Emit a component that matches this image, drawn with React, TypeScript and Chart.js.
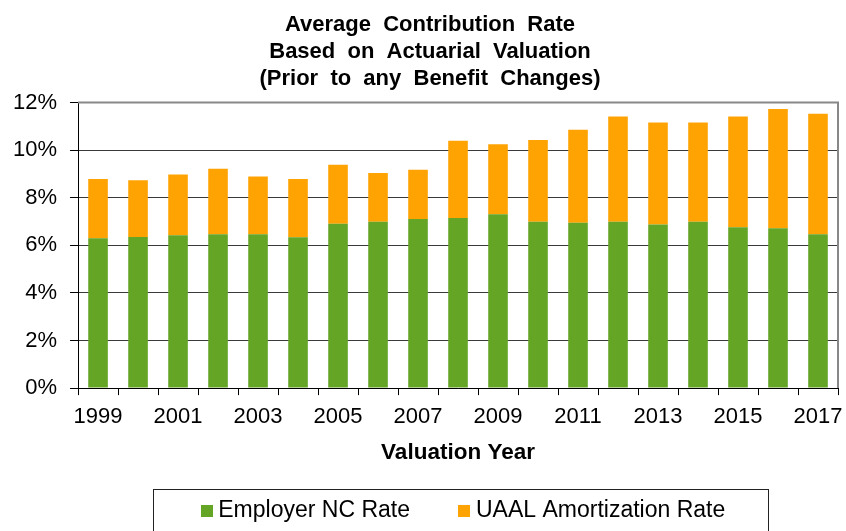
import React, { useEffect, useRef } from "react";
import { Chart, registerables } from "chart.js";

Chart.register(...registerables);

const years = ["1999","2000","2001","2002","2003","2004","2005","2006","2007","2008","2009","2010","2011","2012","2013","2014","2015","2016","2017"];
const employerNcRate = [6.30, 6.35, 6.42, 6.46, 6.46, 6.34, 6.91, 6.99, 7.11, 7.15, 7.30, 6.99, 6.95, 6.99, 6.87, 6.99, 6.76, 6.72, 6.46];
const uaalAmortizationRate = [2.49, 2.38, 2.56, 2.76, 2.43, 2.45, 2.47, 2.05, 2.07, 3.24, 2.95, 3.44, 3.91, 4.42, 4.29, 4.17, 4.65, 5.01, 5.07];
const yTicks = [0, 2, 4, 6, 8, 10, 12];
const titleLines = ["Average  Contribution  Rate", "Based  on  Actuarial  Valuation", "(Prior  to  any  Benefit  Changes)"];
const xAxisTitle = "Valuation Year";
const seriesNames = ["Employer NC Rate", "UAAL Amortization Rate"];
const seriesColors = ["#65A526", "#FFA302"];

const FONT = "'Liberation Sans', Arial, sans-serif";
const LEGEND_PAD = 54.5;
const LEGEND_FONT = 23;

function swatch(color: string) {
  const c = document.createElement("canvas");
  c.width = 12;
  c.height = 12;
  const g = c.getContext("2d")!;
  g.fillStyle = color;
  g.fillRect(0, 0, 12, 12);
  return c;
}

const framePlugin = {
  id: "frame",
  afterLayout(chart: any) {
    const lg = chart.legend;
    if (lg) {
      const dy = 511 - (lg.top + LEGEND_PAD + LEGEND_FONT / 2);
      lg.top += dy;
      lg.bottom += dy;
      const dx = 466 - (lg.left + lg.right) / 2;
      lg.left += dx;
      lg.right += dx;
    }
    const tb = chart.titleBlock;
    if (tb) {
      const dx = 430 - (tb.left + tb.right) / 2;
      tb.left += dx;
      tb.right += dx;
    }
  },
  afterDatasetsDraw(chart: any) {
    const { ctx, chartArea } = chart;
    ctx.save();
    ctx.strokeStyle = "#888888";
    ctx.lineWidth = 2;
    ctx.beginPath();
    ctx.moveTo(chartArea.left, chartArea.top);
    ctx.lineTo(chartArea.right, chartArea.top);
    ctx.lineTo(chartArea.right, chartArea.bottom);
    ctx.stroke();
    ctx.restore();
  },
  afterDraw(chart: any) {
    const { ctx, chartArea } = chart;
    const lg = chart.legend;
    if (!lg) return;
    const cy = lg.top + LEGEND_PAD + LEGEND_FONT / 2;
    const cx = (chartArea.left + chartArea.right) / 2;
    ctx.save();
    ctx.strokeStyle = "#222222";
    ctx.lineWidth = 1;
    ctx.strokeRect(Math.round(cx - 305) + 0.5, Math.round(cy - 22) + 0.5, 615, 80);
    ctx.restore();
  },
};

export default function App() {
  const ref = useRef<HTMLCanvasElement>(null);
  useEffect(() => {
    document.body.style.margin = "0";
    const canvas = ref.current!;
    const chart = new Chart(canvas, {
      type: "bar",
      data: {
        labels: years,
        datasets: seriesNames.map((name, i) => ({
          label: name,
          data: i === 0 ? employerNcRate : uaalAmortizationRate,
          backgroundColor: seriesColors[i],
          borderWidth: 0,
          categoryPercentage: 1,
          barPercentage: 0.49,
          pointStyle: swatch(seriesColors[i]) as any,
        })),
      },
      options: {
        responsive: false,
        animation: false,
        devicePixelRatio: 1,
        layout: { padding: { left: 0, right: 8, top: 0, bottom: -23 } },
        plugins: {
          title: {
            display: true,
            text: titleLines,
            color: "#000",
            font: { family: FONT, size: 22, weight: "bold", lineHeight: 1.22 },
            padding: { top: 12, bottom: 10 },
          },
          legend: {
            display: true,
            position: "bottom",
            fullSize: false,
            labels: {
              color: "#000",
              font: { family: FONT, size: LEGEND_FONT },
              usePointStyle: true,
              pointStyleWidth: 0.01,
              boxHeight: 12,
              padding: LEGEND_PAD,
            },
          },
          tooltip: { enabled: false },
        },
        scales: {
          x: {
            stacked: true,
            afterFit: (scale: any) => {
              scale.paddingLeft = 0;
              scale.paddingRight = 0;
            },
            grid: {
              offset: true,
              drawOnChartArea: false,
              drawTicks: true,
              tickLength: 7,
              color: "#000",
            },
            border: { color: "#000", width: 1 },
            ticks: {
              autoSkip: false,
              maxRotation: 0,
              color: "#000",
              font: { family: FONT, size: 22 },
              padding: 9,
              callback: (_v: any, i: number) => (i % 2 === 0 ? years[i] : ""),
            },
            title: {
              display: true,
              text: xAxisTitle,
              color: "#000",
              font: { family: FONT, size: 22.5, weight: "bold" },
              padding: { top: 0, bottom: 0 },
            },
          },
          y: {
            stacked: true,
            min: 0,
            max: 12,
            afterBuildTicks: (axis: any) => {
              axis.ticks = yTicks.map((v) => ({ value: v }));
            },
            grid: {
              color: (c: any) => (c.tick && c.tick.value === 12 ? "rgba(0,0,0,0)" : "#3a3a3a"),
              tickColor: "#000",
              tickLength: 8,
              lineWidth: 1,
            },
            border: { color: "#000", width: 1 },
            ticks: {
              color: "#000",
              font: { family: FONT, size: 22 },
              padding: 13,
              callback: (v: any) => v + "%",
            },
          },
        },
      },
      plugins: [framePlugin],
    });
    return () => chart.destroy();
  }, []);
  return (
    <div style={{ width: 846, height: 531 }}>
      <canvas ref={ref} width={846} height={531} />
    </div>
  );
}
